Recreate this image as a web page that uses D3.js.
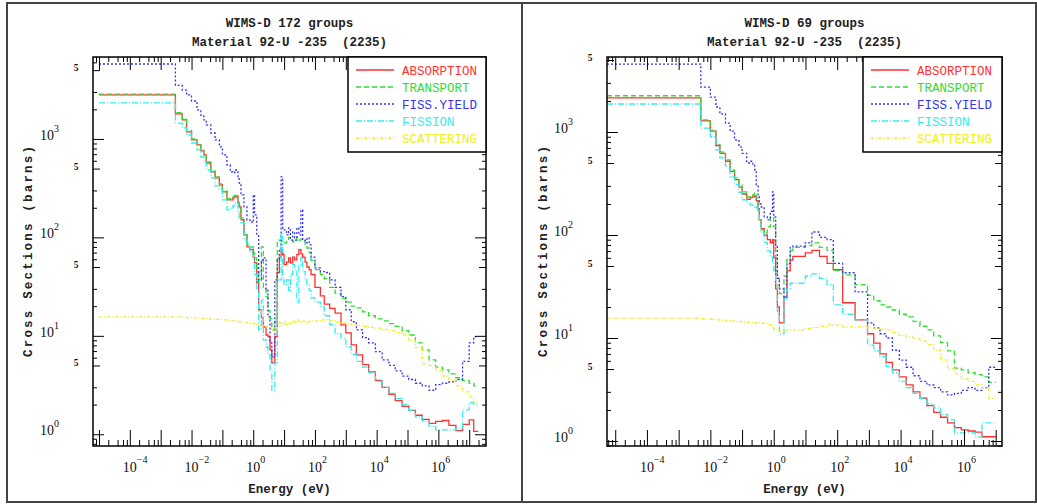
<!DOCTYPE html>
<html>
<head>
<meta charset="utf-8">
<script src="https://cdn.jsdelivr.net/npm/d3@7"></script>
<style>
  body { margin: 0; background: #fff; }
  svg { display: block; }
</style>
</head>
<body>
<svg id="chart" width="1037" height="504"></svg>
<script>
// WIMS-D cross sections for U-235, 172 and 69 group libraries.
// Each series holds one value per group; energies are the group bounds (eV).

const SERIES = ["ABSORPTION", "TRANSPORT", "FISS.YIELD", "FISSION", "SCATTERING"];
const COLORS = ["#ff3030", "#30dd30", "#3434ee", "#30eeee", "#eeee20"];
const DASHES = [null, "5,3", "2,2", "6,2,1,2", "3,2,1,2"];

// ---- 172 groups (reduced set of bounds) ----
const LEFT_E = [1e-5, 3e-3, 5e-3, 6.9e-3, 1e-2, 1.5e-2, 2e-2, 2.5e-2, 3e-2, 4.2e-2,
  5.8e-2, 8e-2, 0.1, 0.14, 0.18, 0.22, 0.25, 0.28, 0.32, 0.35,
  0.4, 0.5, 0.625, 0.78, 0.91, 1.0, 1.1, 1.3, 1.5, 1.84,
  2.13, 2.6, 3.0, 3.5, 4.0, 5.0, 6.0, 7.0, 8.0, 9.0,
  10, 12, 14, 16, 19, 22, 26, 30, 35, 40,
  48, 55, 65, 75, 100, 150, 200, 300, 450, 700,
  1000, 1500, 2200, 3500, 5500, 9100, 1.5e4, 2.5e4, 4e4, 6.7e4,
  1.1e5, 1.8e5, 3e5, 5e5, 8.2e5, 1.35e6, 2.2e6, 3.7e6, 6.1e6, 1e7,
  1.4e7, 1.96e7];

const LEFT_ABS = [2800, 1800, 1560, 1180, 977, 869, 755, 688, 570, 462,
  402, 341, 290, 240, 240, 252, 264, 258, 224, 204,
  151, 106, 80, 75, 75, 63, 55, 35, 18.4, 15.2,
  12.3, 10.2, 9.8, 7.2, 5.3, 9.8, 44, 63, 75, 67,
  53, 56, 62, 55, 63, 59, 67, 75, 68, 63,
  56, 50, 47, 42, 31, 25.5, 21, 19, 17, 12.9,
  10.7, 8.1, 6.4, 5.1, 4.3, 3.5, 3.0, 2.55, 2.2, 1.92,
  1.75, 1.56, 1.42, 1.29, 1.35, 1.38, 1.23, 1.09, 1.26, 1.40,
  1.07];

const LEFT_TRN = [2860, 1850, 1600, 1220, 1000, 890, 775, 705, 585, 475,
  412, 350, 298, 247, 245, 258, 270, 265, 232, 212,
  158, 112, 85, 80, 80, 70, 62, 45, 35, 80,
  30, 25, 18, 15, 11.5, 14, 94, 94, 94, 94,
  88, 94, 100, 94, 90, 94, 100, 94, 96, 94,
  85, 78, 70, 58, 47, 42, 38, 31, 27, 24,
  22, 20, 19.2, 17.5, 16, 14.9, 14.2, 13.3, 12.5, 11.3,
  10.2, 8.5, 7.2, 5.7, 4.8, 4.5, 4.1, 3.75, 3.5, 3.3,
  3.1];

const LEFT_FY = [5770, 3500, 3140, 2800, 2430, 1970, 1750, 1560, 1390, 1150,
  977, 830, 688, 545, 462, 452, 484, 484, 402, 357,
  270, 204, 151, 144, 141, 270, 169, 106, 37, 59,
  62, 29, 15.6, 8.5, 6.1, 37, 59, 75, 411, 119,
  119, 106, 125, 94, 114, 94, 125, 106, 190, 94,
  88, 99, 84, 63, 49, 45, 44, 37, 31, 25,
  18.4, 13.9, 11.5, 9.6, 8.5, 6.9, 5.7, 5.0, 4.4, 3.9,
  3.6, 3.3, 3.1, 2.8, 3.2, 3.3, 3.4, 3.6, 5.5, 8.5,
  9.8];

const LEFT_FIS = [2320, 1450, 1300, 1100, 910, 773, 656, 584, 484, 402,
  333, 304, 240, 190, 199, 209, 224, 224, 177, 158,
  141, 94, 84, 71, 67, 62, 42, 29, 11.5, 23,
  9.1, 7.7, 6.4, 4.5, 2.8, 5.3, 37, 37, 110, 37,
  33, 37, 29, 42, 53, 47, 21.6, 53, 63, 45,
  37, 33, 29, 24.3, 22, 19.7, 16, 13, 10.5, 9.5,
  7.7, 6.5, 5.5, 4.8, 4.2, 3.6, 3.0, 2.6, 2.3, 2.0,
  1.75, 1.5, 1.35, 1.2, 1.11, 1.11, 1.11, 1.15, 1.77, 2.1,
  2.0];

const LEFT_SCT = [15.6, 15.5, 15.4, 15.3, 15.2, 15.1, 15.0, 15.0, 14.9, 14.8,
  14.7, 14.6, 14.5, 14.4, 14.3, 14.2, 14.1, 14.0, 14.0, 13.9,
  13.8, 13.7, 13.6, 13.5, 13.4, 13.3, 13.2, 13.0, 12.8, 12.6,
  12.5, 12.3, 12.2, 12.0, 11.6, 11.4, 12.5, 13.5, 12.8, 13.2,
  14.0, 13.0, 13.8, 13.3, 14.2, 13.6, 14.5, 14.0, 13.7, 14.0,
  13.6, 13.8, 14.0, 14.2, 14.2, 14.5, 14.5, 14.3, 13.8, 13.5,
  13.3, 13.0, 12.8, 12.5, 12.2, 12.0, 11.6, 11.3, 10.8, 10.2,
  9.0, 7.6, 5.2, 5.0, 4.4, 3.9, 3.5, 3.1, 2.7, 2.4,
  2.1];

// ---- 69 groups ----
const RIGHT_E = [5.5e-6, 0.005, 0.01, 0.015, 0.02, 0.03, 0.042, 0.058, 0.08, 0.1,
  0.14, 0.18, 0.22, 0.25, 0.28, 0.32, 0.35, 0.4, 0.5, 0.625,
  0.78, 0.91, 1.0, 1.15, 1.3, 1.5, 2.1, 2.6, 3.3, 4.0,
  9.877, 15.968, 27.7, 48.052, 75.501, 148.73, 367.26, 906.9, 1425.1, 2239.5,
  3519.1, 5530, 9118, 15030, 24780, 40850, 67340, 1.11e5, 1.83e5, 3.025e5,
  5.0e5, 8.21e5, 1.353e6, 2.231e6, 3.679e6, 6.0655e6, 1.0e7];

const RIGHT_ABS = [2150, 1280, 1020, 740, 620, 520, 415, 345, 292, 250,
  222, 232, 240, 236, 215, 180, 140, 115, 100, 90,
  84, 90, 60, 30, 20, 14, 25, 45, 57, 62,
  67, 71, 62, 53, 46, 22, 15, 11, 8.9, 7,
  5.8, 4.9, 4.2, 3.5, 3.0, 2.6, 2.2, 1.9, 1.7, 1.5,
  1.35, 1.28, 1.25, 1.22, 1.1, 1.1];

const RIGHT_TRN = [2250, 1310, 1045, 760, 640, 535, 428, 358, 306, 262,
  234, 240, 245, 256, 230, 175, 140, 112, 105, 120,
  150, 150, 120, 60, 38, 27, 40, 58, 71, 76,
  79, 84, 76, 71, 45, 41, 33, 26, 23, 21,
  20, 18.7, 17, 16, 14.5, 13, 12, 10.5, 9, 7.5,
  5.1, 4.9, 4.6, 4.4, 4.2, 3.7];

const RIGHT_FY = [4570, 2730, 2180, 1750, 1500, 1220, 1020, 836, 714, 620,
  500, 520, 480, 430, 300, 234, 200, 187, 150, 140,
  170, 262, 150, 80, 38, 30, 25, 53, 76, 78,
  84, 107, 95, 90, 53, 43, 28, 14, 12.5, 11,
  10, 7.6, 6.1, 5.2, 4.3, 3.8, 3.5, 3.3, 3.0, 2.8,
  2.9, 3.1, 3.3, 3.1, 3.3, 5.2];

const RIGHT_FIS = [1870, 1090, 900, 670, 560, 470, 365, 310, 260, 220,
  205, 195, 187, 190, 185, 175, 140, 105, 85, 70,
  61, 55, 45, 33, 18, 11, 24, 30, 34, 34,
  40, 42, 38, 33, 21, 17, 15, 8.5, 7.5, 6.6,
  5.3, 4.6, 3.8, 3.3, 2.9, 2.6, 2.3, 2.1, 1.8, 1.6,
  1.2, 1.2, 1.2, 1.09, 1.5, 1.5];

const RIGHT_SCT = [15.6, 15.3, 15.2, 15.0, 14.9, 14.7, 14.6, 14.5, 14.4, 14.3,
  14.2, 14.2, 14.1, 14.1, 14.0, 14.0, 14.0, 13.9, 13.8, 13.5,
  13.0, 12.5, 12.2, 12.0, 11.8, 11.7, 11.8, 12.0, 12.0, 12.0,
  12.3, 12.6, 13.0, 13.4, 13.3, 12.8, 12.8, 12.6, 12.4, 12.2,
  12.0, 11.3, 10.6, 10.2, 9.8, 9.3, 8.6, 7.6, 6.1, 5.0,
  4.5, 4.0, 3.8, 3.5, 3.3, 2.6];

const X_LABEL_EXP = [-4, -2, 0, 2, 4, 6];

const MONO = "'Liberation Mono','DejaVu Sans Mono',monospace";
const SERIF = "'Liberation Serif','DejaVu Serif',serif";

const PANELS = [
  { title: "WIMS-D 172 groups", sub: "Material 92-U -235  (2235)",
    E: LEFT_E, vals: [LEFT_ABS, LEFT_TRN, LEFT_FY, LEFT_FIS, LEFT_SCT],
    x0: 93, x1: 486, y0: 57, y1: 446, xDom: [6.4e-6, 3.5e7], yDom: [0.76, 6800],
    yTitleX: 28, legendX: 348 },
  { title: "WIMS-D 69 groups", sub: "Material 92-U -235  (2235)",
    E: RIGHT_E, vals: [RIGHT_ABS, RIGHT_TRN, RIGHT_FY, RIGHT_FIS, RIGHT_SCT],
    x0: 607, x1: 1002, y0: 57, y1: 446, xDom: [5.5e-6, 1.58e7], yDom: [0.894, 5350],
    yTitleX: 543, legendX: 863 },
];

const svg = d3.select("#chart");

// outer panel borders
svg.append("rect").attr("x", 7).attr("y", 3).attr("width", 515).attr("height", 499)
  .attr("fill", "none").attr("stroke", "#444").attr("stroke-width", 2);
svg.append("rect").attr("x", 522).attr("y", 3).attr("width", 514).attr("height", 499)
  .attr("fill", "none").attr("stroke", "#444").attr("stroke-width", 2);

function logTicks(scale, mults) {
  const [a, b] = scale.domain();
  const maj = [], min = [];
  for (let p = Math.floor(Math.log10(a)); p <= Math.ceil(Math.log10(b)); p++) {
    const d = Math.pow(10, p);
    if (d >= a && d <= b) maj.push(d);
    mults.forEach((m) => { const v = m * d; if (v >= a && v <= b) min.push(v); });
  }
  return { maj, min };
}

function tickAxis(g, axis, values, size) {
  g.call(axis.tickValues(values).tickSize(-size).tickSizeOuter(0).tickFormat(""))
    .call((s) => s.select(".domain").remove())
    .call((s) => s.selectAll(".tick line").attr("stroke", "#000").attr("stroke-width", 1));
}

PANELS.forEach((P, pi) => {
  const x = d3.scaleLog().domain(P.xDom).range([P.x0, P.x1]);
  const y = d3.scaleLog().domain(P.yDom).range([P.y1, P.y0]);
  const cx = (P.x0 + P.x1) / 2;
  const g = svg.append("g");

  // titles
  g.append("text").attr("x", cx).attr("y", 27).attr("text-anchor", "middle")
    .style("font", `bold 12.5px ${MONO}`).style("white-space", "pre").attr("fill", "#222")
    .text(P.title);
  g.append("text").attr("x", cx).attr("y", 46).attr("text-anchor", "middle")
    .style("font", `bold 12.5px ${MONO}`).style("white-space", "pre").attr("fill", "#222")
    .text(P.sub);

  // curves
  const clipId = `clip${pi}`;
  svg.append("clipPath").attr("id", clipId).append("rect")
    .attr("x", P.x0).attr("y", P.y0).attr("width", P.x1 - P.x0).attr("height", P.y1 - P.y0);
  const line = d3.line().x((d) => x(d[0])).y((d) => y(d[1])).curve(d3.curveStepAfter);
  const curves = g.append("g").attr("clip-path", `url(#${clipId})`);
  P.vals.forEach((vals, si) => {
    const pts = P.E.map((e, i) => [e, vals[Math.min(i, vals.length - 1)]]);
    curves.append("path").datum(pts).attr("d", line)
      .attr("fill", "none").attr("stroke", COLORS[si]).attr("stroke-width", 1.3)
      .attr("stroke-dasharray", DASHES[si]);
  });

  // ticks on all four sides, pointing inward
  const xt = logTicks(x, [2, 4, 6, 8]);
  const yt = logTicks(y, [2, 3, 6, 7, 8, 9]);
  const y5 = logTicks(y, [5]).min;
  tickAxis(g.append("g").attr("transform", `translate(0,${P.y1})`), d3.axisBottom(x), xt.maj, 16);
  tickAxis(g.append("g").attr("transform", `translate(0,${P.y1})`), d3.axisBottom(x), xt.min, 6);
  tickAxis(g.append("g").attr("transform", `translate(0,${P.y0})`), d3.axisTop(x), xt.maj, 13);
  tickAxis(g.append("g").attr("transform", `translate(0,${P.y0})`), d3.axisTop(x), xt.min, 5);
  tickAxis(g.append("g").attr("transform", `translate(${P.x0},0)`), d3.axisLeft(y), yt.maj, 11);
  tickAxis(g.append("g").attr("transform", `translate(${P.x0},0)`), d3.axisLeft(y), y5, 7);
  tickAxis(g.append("g").attr("transform", `translate(${P.x0},0)`), d3.axisLeft(y), yt.min, 4);
  tickAxis(g.append("g").attr("transform", `translate(${P.x1},0)`), d3.axisRight(y), yt.maj, 11);
  tickAxis(g.append("g").attr("transform", `translate(${P.x1},0)`), d3.axisRight(y), y5, 7);
  tickAxis(g.append("g").attr("transform", `translate(${P.x1},0)`), d3.axisRight(y), yt.min, 4);

  // plot frame
  g.append("rect").attr("x", P.x0).attr("y", P.y0)
    .attr("width", P.x1 - P.x0).attr("height", P.y1 - P.y0)
    .attr("fill", "none").attr("stroke", "#000").attr("stroke-width", 1.5);

  // x tick labels: 10 with superscript exponent
  X_LABEL_EXP.forEach((p) => {
    const px = x(Math.pow(10, p));
    g.append("text").attr("x", px).attr("y", 472).attr("text-anchor", "middle")
      .style("font", `14px ${SERIF}`).attr("fill", "#111").text("10");
    g.append("text").attr("x", px + 7).attr("y", 463)
      .style("font", `10px ${SERIF}`).attr("fill", "#111").text(p < 0 ? `\u2212${-p}` : `${p}`);
  });

  // y tick labels
  yt.maj.forEach((v) => {
    const p = Math.round(Math.log10(v));
    const py = y(v) + 1;
    g.append("text").attr("x", P.x0 - 39).attr("y", py).attr("text-anchor", "end")
      .style("font", `14px ${SERIF}`).attr("fill", "#111").text("10");
    g.append("text").attr("x", P.x0 - 39).attr("y", py - 8)
      .style("font", `10px ${SERIF}`).attr("fill", "#111").text(`${p}`);
  });
  y5.forEach((v) => {
    g.append("text").attr("x", P.x0 - 17).attr("y", y(v) + 1).attr("text-anchor", "middle")
      .style("font", `bold 9.5px ${SERIF}`).attr("fill", "#111").text("5");
  });

  // axis titles
  g.append("text").attr("x", cx).attr("y", 493).attr("text-anchor", "middle")
    .style("font", `bold 12.5px ${MONO}`).attr("fill", "#222").text("Energy (eV)");
  g.append("text")
    .attr("transform", `translate(${P.yTitleX},${(P.y0 + P.y1) / 2}) rotate(-90)`)
    .attr("text-anchor", "middle").attr("dy", "0.35em")
    .attr("textLength", 211).attr("lengthAdjust", "spacing")
    .style("font", `bold 12.5px ${MONO}`).style("white-space", "pre").attr("fill", "#222")
    .text("Cross Sections (barns)");

  // legend
  const lg = g.append("g");
  lg.append("rect").attr("x", P.legendX).attr("y", P.y0)
    .attr("width", P.x1 - P.legendX).attr("height", 95)
    .attr("fill", "#fff").attr("stroke", "#000").attr("stroke-width", 1.5);
  SERIES.forEach((name, i) => {
    const ly = P.y0 + 13 + i * 17;
    lg.append("line").attr("x1", P.legendX + 8).attr("x2", P.legendX + 46)
      .attr("y1", ly).attr("y2", ly)
      .attr("stroke", COLORS[i]).attr("stroke-width", 1.3).attr("stroke-dasharray", DASHES[i]);
    lg.append("text").attr("x", P.legendX + 54).attr("y", ly + 4.5)
      .style("font", `12.5px ${MONO}`).attr("fill", COLORS[i]).text(name);
  });
});
</script>
</body>
</html>
